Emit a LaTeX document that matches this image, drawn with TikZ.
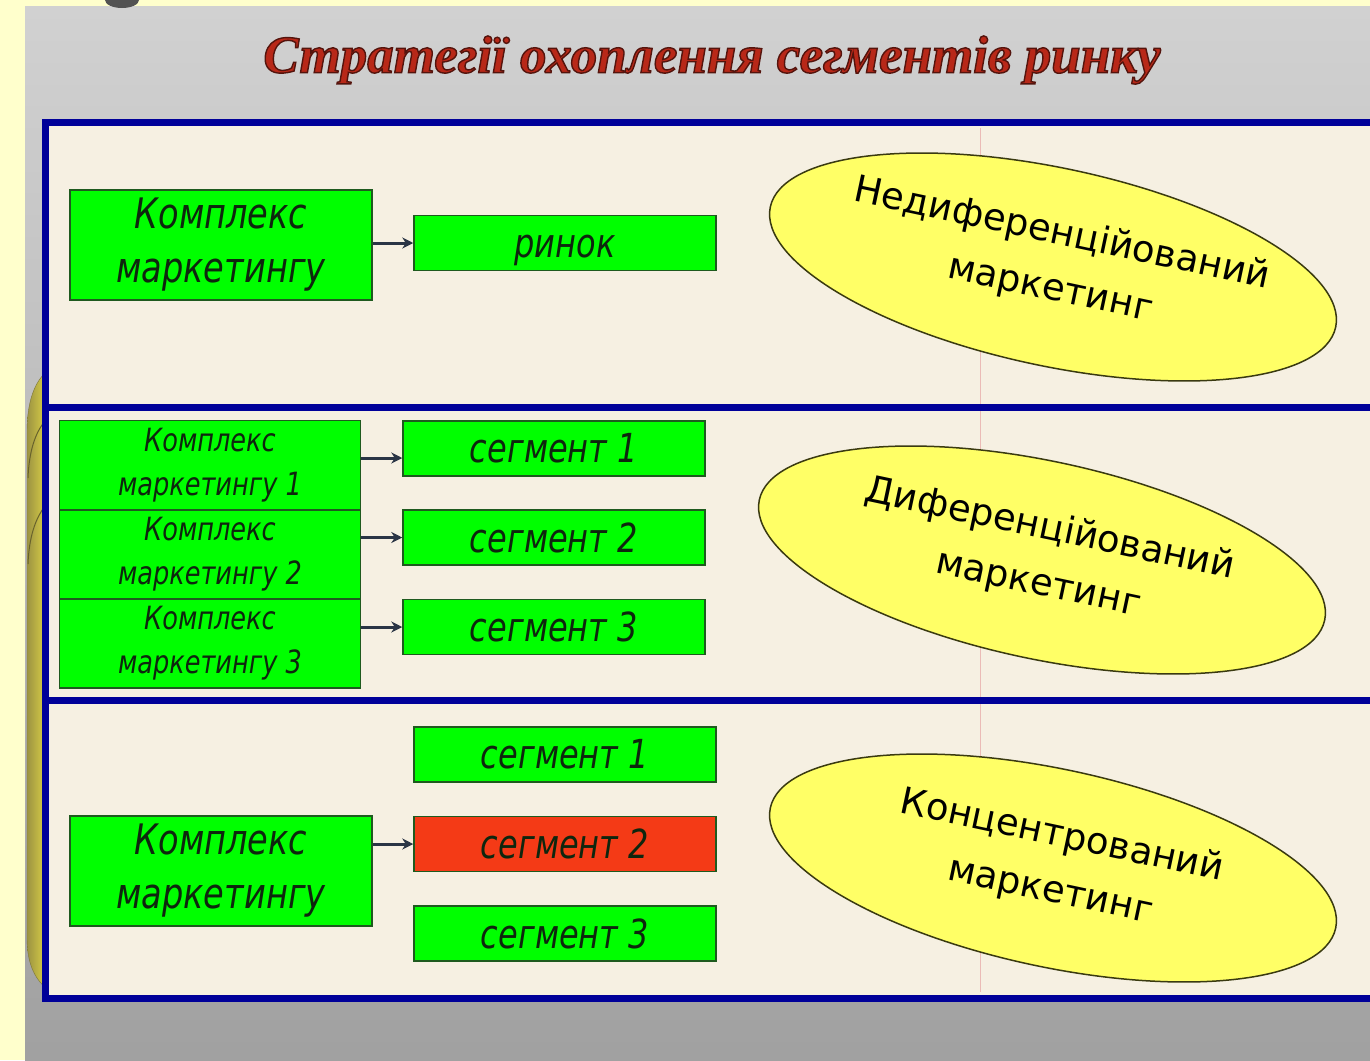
\documentclass[tikz,border=0pt]{standalone}
\usepackage{fontspec}
\setmainfont{DejaVu Sans}
\newfontfamily\titlefont{Liberation Serif}
\newfontfamily\boxfont[FakeStretch=0.8]{DejaVu Sans}
\newfontfamily\ellfont{DejaVu Sans}
\usetikzlibrary{shapes.geometric,arrows.meta}
\definecolor{pageyel}{HTML}{FFFFCC}
\definecolor{frameblue}{HTML}{000099}
\definecolor{panelbg}{HTML}{F6F0E2}
\definecolor{boxgreen}{HTML}{00FF00}
\definecolor{boxedge}{HTML}{1E5A1E}
\definecolor{boxred}{HTML}{F43A16}
\definecolor{txtdark}{HTML}{0E260E}
\definecolor{ellyel}{HTML}{FFFF66}
\definecolor{elledge}{HTML}{3A3A10}
\definecolor{titlered}{HTML}{B82818}
\definecolor{olive}{HTML}{D0C458}
\definecolor{arrowcol}{HTML}{2A3545}
\newcommand{\strokedtext}[1]{\special{pdf:literal 2 Tr 1.4 w 0.33 0.08 0.05 RG}#1\special{pdf:literal 0 Tr}}
\tikzset{
  gbox/.style={draw=boxedge, fill=boxgreen, line width=1.5pt, inner sep=0pt,
    text=txtdark, align=center},
  bigk/.style={gbox, minimum width=302pt, minimum height=110pt,
    font=\boxfont\itshape\fontsize{42}{54}\selectfont},
  smallk/.style={gbox, minimum width=301pt, minimum height=89pt,
    font=\boxfont\itshape\fontsize{32}{44}\selectfont},
  seg/.style={gbox, minimum width=302pt, minimum height=55pt,
    font=\boxfont\itshape\fontsize{40}{48}\selectfont},
  ell/.style={ellipse, draw=elledge, fill=ellyel, line width=1.5pt,
    minimum width=578pt, minimum height=198pt, inner sep=0pt, rotate=-12},
  elltext/.style={rotate=-12, align=center, text=black, inner sep=0pt,
    font=\ellfont\fontsize{37}{56}\selectfont},
  arr/.style={draw=arrowcol, line width=3pt, -{Stealth[length=11pt,width=11pt]}},
}
\begin{document}
\begin{tikzpicture}[x=1pt,y=-1pt]
\useasboundingbox (0,0) rectangle (1370,1060);
\clip (0,0) rectangle (1370,1060);
% page and slide background
\fill[pageyel] (0,0) rectangle (1370,1060);
\shade[top color=black!18, bottom color=black!37] (25,6) rectangle (1370,1060);
\fill[black!68] (122,0) ellipse (17pt and 8pt);
\fill[pageyel] (0,0) rectangle (25,1060);
% left decoration
\shade[left color=olive!75!black, right color=olive!80!yellow, draw=olive!60!black]
  (46,372) .. controls (33,384) and (27,405) .. (27,432) -- (27,938)
  .. controls (27,962) and (34,978) .. (46,988) -- cycle;
\draw[olive!50!black, line width=1pt] (46,420) .. controls (35,432) and (29,452) .. (28,478);
\draw[olive!50!black, line width=1pt] (46,505) .. controls (35,518) and (29,538) .. (28,564);
% title
\node[font=\titlefont\bfseries\itshape\fontsize{53}{58}\selectfont, text=titlered]
  (title) at (712,60) {\strokedtext{Стратегії охоплення сегментів ринку}};
% frame and panels
\fill[panelbg] (45,122) rectangle (1390,998);
\draw[black!25!red!40!white, line width=0.8pt, opacity=0.6] (980,128) -- (980,992);
\draw[frameblue, line width=7pt] (45,122) rectangle (1390,998);
\draw[frameblue, line width=7pt] (45,407) -- (1390,407);
\draw[frameblue, line width=7pt] (45,700) -- (1390,700);
% panel 1
\node[bigk] (k1) at (221,245) {Комплекс\\маркетингу};
\node[seg, text height=28pt, text depth=0pt] (r1) at (565,243) {ринок};
\draw[arr] (k1.east |- r1.west) -- (r1.west);
\node[ell] (e1) at (1053,267) {};
\node[elltext] (t1) at (1056,262) {Недиференційований\\маркетинг};
% panel 2
\node[smallk] (k21) at (210,465) {Комплекс\\маркетингу 1};
\node[smallk] (k22) at (210,554.5) {Комплекс\\маркетингу 2};
\node[smallk] (k23) at (210,643.5) {Комплекс\\маркетингу 3};
\node[seg] (s21) at (554,448.5) {сегмент 1};
\node[seg] (s22) at (554,537.5) {сегмент 2};
\node[seg] (s23) at (554,627) {сегмент 3};
\coordinate (a21) at (0,458);
\draw[arr] (k21.east |- a21) -- (s21.west |- a21);
\draw[arr] (k22.east |- s22.west) -- (s22.west);
\draw[arr] (k23.east |- s23.west) -- (s23.west);
\node[ell] (e2) at (1042,560) {};
\node[elltext] (t2) at (1044,557) {Диференційований\\маркетинг};
% panel 3
\node[seg] (s31) at (565,754.5) {сегмент 1};
\node[seg, fill=boxred] (s32) at (565,844) {сегмент 2};
\node[seg] (s33) at (565,933.5) {сегмент 3};
\node[bigk] (k3) at (221,871) {Комплекс\\маркетингу};
\draw[arr] (k3.east |- s32.west) -- (s32.west);
\node[ell] (e3) at (1053,868) {};
\node[elltext] (t3) at (1056,864) {Концентрований\\маркетинг};
\end{tikzpicture}
\end{document}
